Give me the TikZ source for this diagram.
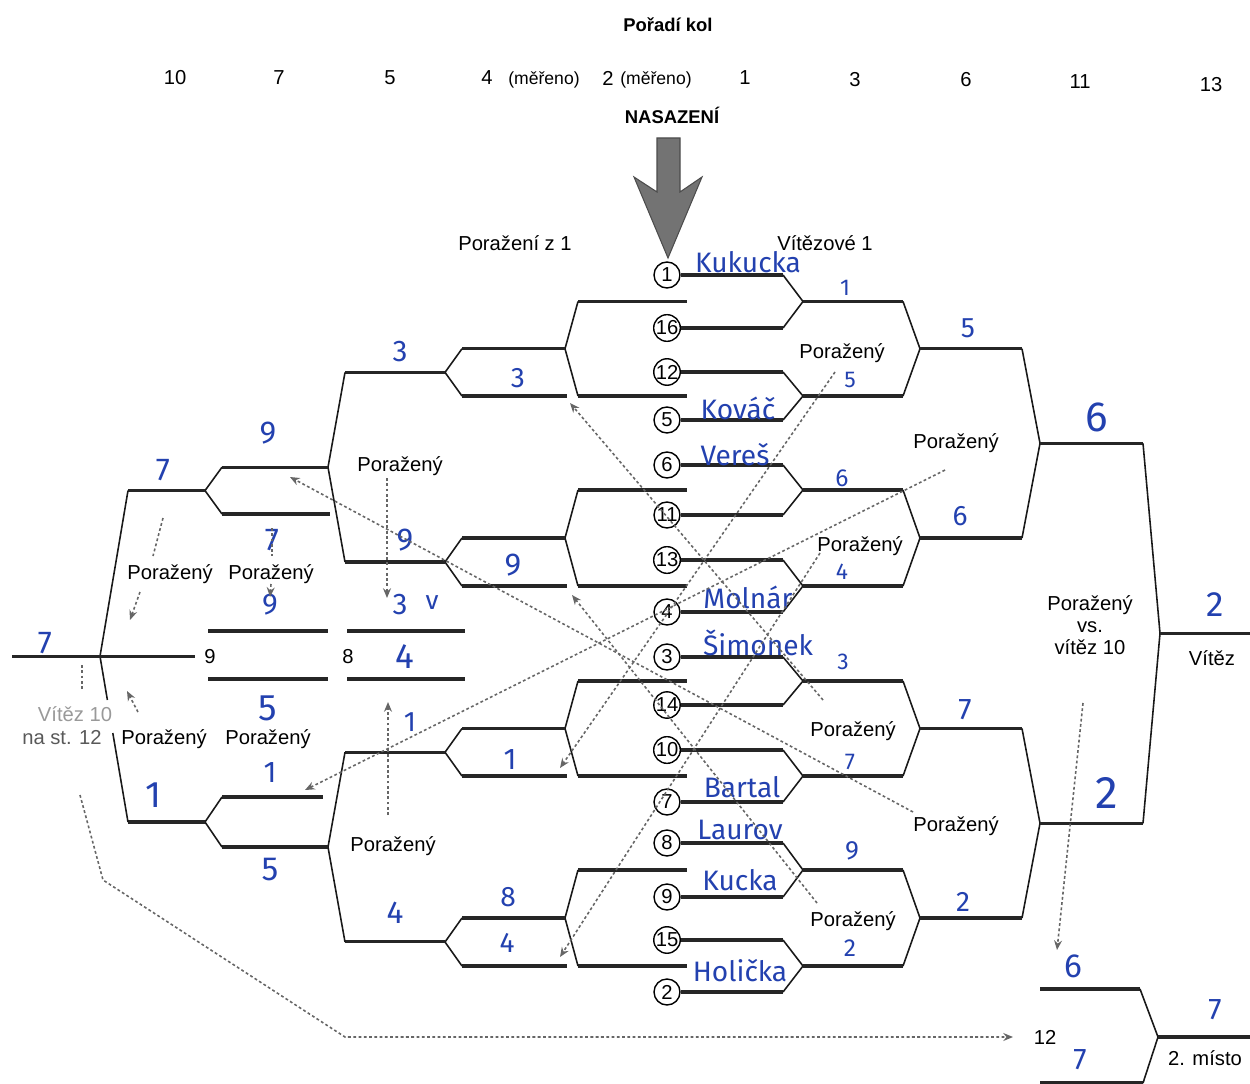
\documentclass[tikz,border=0pt]{standalone}
\usepackage{fontspec}
\setmainfont{Liberation Sans}
\newfontfamily\hand{Fira Sans}
\usetikzlibrary{arrows.meta}
\definecolor{hb}{RGB}{35,65,175}
\begin{document}
\begin{tikzpicture}[x=0.02cm,y=-0.02cm,
 br/.style={line width=1.8pt,draw=black!85},
 diag/.style={line width=0.9pt,draw=black!90},
 lab/.style={inner sep=0pt,font=\fontsize{11.5}{13.5}\selectfont},
 hdr/.style={inner sep=0pt,font=\fontsize{11.5}{13}\selectfont},
 boldlab/.style={inner sep=0pt,font=\bfseries\fontsize{10.5}{12}\selectfont},
 seed/.style={circle,draw,line width=0.8pt,minimum size=0.52cm,inner sep=0pt,font=\fontsize{11.5}{12}\selectfont,fill=white},
 hw/.style={inner sep=0pt,text=hb,font=\hand\fontsize{#1}{#1}\selectfont},
 hw/.default=16,
 dsh/.style={draw=black!60,line width=0.9pt,dash pattern=on 1.6pt off 1.4pt},
 dar/.style={dsh,-{Stealth[length=5.5pt,width=4.5pt]}},
]
\useasboundingbox (0,0) rectangle (1250,1084);

% ---------- header ----------
\node[boldlab] (title) at (668,25) {Pořadí kol};
\node[hdr] (h10) at (175,78) {10};
\node[hdr] (h7) at (279,78) {7};
\node[hdr] (h5) at (390,78) {5};
\node[hdr] (h4) at (487,78) {4};
\node[inner sep=0pt,font=\fontsize{10}{12}\selectfont] (h4m) at (544,80) {(měřeno)};
\node[hdr] (h2) at (608,78) {2};
\node[inner sep=0pt,font=\fontsize{10}{12}\selectfont] (h2m) at (656,80) {(měřeno)};
\node[hdr] (h1) at (745,78) {1};
\node[hdr] (h3) at (855,80) {3};
\node[hdr] (h6) at (966,80) {6};
\node[hdr] (h11) at (1080,82) {11};
\node[hdr] (h13) at (1211,85) {13};
\node[boldlab] (nas) at (672,115) {NASAZENÍ};

% big arrow
\filldraw[fill=black!55,draw=black!70,line width=0.6pt]
 (657,138) -- (680,138) -- (680,192) -- (702,177) -- (668,258) -- (634,177) -- (657,192) -- cycle;

\node[lab] (lz1) at (515,243) {Poražení z 1};
\node[lab] (vz1) at (825,243) {Vítězové 1};

% ---------- seeds ----------
\foreach \n/\yy in {1/275,16/328,12/372,5/420,6/465,11/515,13/560,4/612,3/657,14/705,10/750,7/802,8/843,9/897,15/940,2/992}{
  \node[seed] (s\n) at (667,\yy) {\n};
  \draw[br] (s\n.east) -- (783,\yy);
}
% ---------- winners bracket ----------
\foreach \a/\b in {275/328,372/420,465/515,560/612,657/705,750/802,843/897,940/992}
  \draw[diag] (783,\a) -- (803,{(\a+\b)/2}) -- (783,\b);
\foreach \a/\b in {301.5/396,490/586,681/776,870/966}{
  \draw[br] (803,\a) -- (903,\a);
  \draw[br] (803,\b) -- (903,\b);
  \draw[diag] (903,\a) -- (920,{(\a+\b)/2}) -- (903,\b);
}
\foreach \a/\b in {348.75/538,728.5/918}{
  \draw[br] (920,\a) -- (1022,\a);
  \draw[br] (920,\b) -- (1022,\b);
  \draw[diag] (1022,\a) -- (1040,{(\a+\b)/2}) -- (1022,\b);
}
\draw[br] (1040,443.4) -- (1143,443.4);
\draw[br] (1040,823.25) -- (1143,823.25);
\draw[diag] (1143,443.4) -- (1160,633.3) -- (1143,823.25);
\draw[br] (1160,633.3) -- (1250,633.3);

% second place
\draw[br] (1040,989) -- (1140,989);
\draw[br] (1040,1083) -- (1143,1083);
\draw[diag] (1140,989) -- (1158,1037) -- (1143,1083);
\draw[br] (1158,1037) -- (1250,1037);

% ---------- losers bracket ----------
\foreach \a/\b in {301.5/396,490/586,681/776,870/966}{
  \draw[br] (578,\a) -- (687,\a);
  \draw[br] (578,\b) -- (687,\b);
  \draw[diag] (578,\a) -- (565,{(\a+\b)/2}) -- (578,\b);
  \draw[br] (462,{(\a+\b)/2}) -- (565,{(\a+\b)/2});
  \draw[br] (462,\b) -- (567,\b);
  \draw[diag] (462,{(\a+\b)/2}) -- (445,{((\a+\b)/2+\b)/2}) -- (462,\b);
}
\foreach \a/\b in {372.4/562,752.25/941.9}{
  \draw[br] (345,\a) -- (445,\a);
  \draw[br] (345,\b) -- (445,\b);
  \draw[diag] (345,\a) -- (328,{(\a+\b)/2}) -- (345,\b);
}
% round 7
\draw[br] (222,467.2) -- (328,467.2);
\draw[br] (222,514) -- (330,514);
\draw[diag] (222,467.2) -- (205,490.6) -- (222,514);
\draw[br] (222,797) -- (323,797);
\draw[br] (222,847) -- (328,847);
\draw[diag] (222,797) -- (205,822) -- (222,847);
% round 10
\draw[br] (128,490.6) -- (205,490.6);
\draw[br] (128,822) -- (205,822);
\draw[diag] (128,490.6) -- (100,656.3) -- (107.4,700);
\draw[diag] (112.8,733) -- (128,822);
\draw[br] (12,656.3) -- (195,656.3);
% rounds 9 and 8
\draw[br] (208,631) -- (328,631);
\draw[br] (208,679) -- (328,679);
\draw[br] (347,631) -- (465,631);
\draw[br] (347,679) -- (465,679);
\node[lab] (r9) at (210,657) {9};
\node[lab] (r8) at (348,657) {8};

% ---------- printed labels ----------
\node[lab] (p1) at (842,353) {Poražený};
\node[lab] (p2) at (956,443) {Poražený};
\node[lab] (p3) at (860,546) {Poražený};
\node[lab] (p4) at (400,466) {Poražený};
\node[lab] (p5) at (170,574) {Poražený};
\node[lab] (p6) at (271,574) {Poražený};
\node[lab] (p7) at (164,739) {Poražený};
\node[lab] (p8) at (268,739) {Poražený};
\node[lab] (p9) at (393,846) {Poražený};
\node[lab] (p10) at (853,731) {Poražený};
\node[lab] (p11) at (956,826) {Poražený};
\node[lab] (p12) at (853,921) {Poražený};
\node[lab,text=black!40] (v10) at (75,714) {Vítěz 10};
\node[lab,text=black!65] (st12) at (62,738) {na st. 12};
\node[lab,align=center,font=\fontsize{11.5}{12.5}\selectfont] (pvs) at (1090,625) {Poražený\\vs.\\vítěz 10};
\node[lab] (vit) at (1212,658) {Vítěz};
\node[lab] (n12) at (1045,1037) {12};
\node[lab] (misto) at (1205,1058) {2. místo};

% ---------- handwritten names ----------
\node[hw=16] (nKukucka) at (748,262) {Kukucka};
\node[hw=16] (nKovac) at (738,408) {Kováč};
\node[hw=16] (nVeres) at (735,455) {Vereš};
\node[hw=16] (nMolnar) at (748,597) {Molnár};
\node[hw=16] (nSimonek) at (758,643) {Šimonek};
\node[hw=16] (nBartal) at (742,787) {Bartal};
\node[hw=16] (nLaurov) at (740,830) {Laurov};
\node[hw=16] (nKucka) at (740,880) {Kucka};
\node[hw=16] (nHolicka) at (740,971) {Holička};

% ---------- handwritten scores ----------
\node[hw=13] (w1a) at (845,288) {1};
\node[hw=13] (w1b) at (850,380) {5};
\node[hw=14] (w1c) at (842,478) {6};
\node[hw=13] (w1d) at (842,572) {4};
\node[hw=13] (w1e) at (843,662) {3};
\node[hw=13] (w1f) at (850,762) {7};
\node[hw=15] (w1g) at (852,851) {9};
\node[hw=14] (w1h) at (850,948) {2};
\node[hw=16] (w3a) at (968,328) {5};
\node[hw=16] (w3b) at (960,516) {6};
\node[hw=17] (w3c) at (965,710) {7};
\node[hw=16] (w3d) at (963,902) {2};
\node[hw=24] (w6a) at (1097,417) {6};
\node[hw=26] (w6b) at (1107,793) {2};
\node[hw=20] (fin) at (1215,605) {2};
\node[hw=19] (sp1) at (1073,966) {6};
\node[hw=17] (sp2) at (1080,1060) {7};
\node[hw=17] (sp3) at (1215,1010) {7};

\node[hw=17] (l1) at (400,352) {3};
\node[hw=16] (l2) at (518,378) {3};
\node[hw=18] (l3) at (405,540) {9};
\node[hw=18] (l4) at (513,565) {9};
\node[hw=18] (l5) at (268,433) {9};
\node[hw=18] (l6) at (272,540) {7};
\node[hw=18] (l7) at (163,470) {7};
\node[hw=17] (l8) at (270,605) {9};
\node[hw=17] (l9) at (400,605) {3};
\node[hw=15] (l9v) at (432,603) {v};
\node[hw=20] (l10) at (405,657) {4};
\node[hw=21] (l11) at (268,708) {5};
\node[hw=18] (l12) at (45,643) {7};
\node[hw=17] (l13) at (270,773) {1};
\node[hw=21] (l14) at (153,795) {1};
\node[hw=19] (l15) at (270,870) {5};
\node[hw=16] (l16) at (410,722) {1};
\node[hw=17] (l17) at (510,760) {1};
\node[hw=18] (l18) at (395,913) {4};
\node[hw=16] (l19) at (508,897) {8};
\node[hw=16] (l20) at (507,943) {4};

% ---------- dotted connectors ----------
\coordinate (aS) at (823,700); \coordinate (aE) at (570,403);
\coordinate (bS) at (835,372); \coordinate (bE) at (560,768);
\coordinate (cS) at (945,470); \coordinate (cE) at (305,790);
\coordinate (dS) at (820,553); \coordinate (dE) at (560,957);
\coordinate (eS) at (913,812); \coordinate (eE) at (290,477);
\coordinate (fS) at (817,903); \coordinate (fE) at (572,595);
\draw[dar] (aS) -- (aE);
\draw[dar] (bS) -- (bE);
\draw[dar] (cS) -- (cE);
\draw[dar] (dS) -- (dE);
\draw[dar] (eS) -- (eE);
\draw[dar] (fS) -- (fE);

\coordinate (gS) at (387,478); \coordinate (gE) at (387,598);
\draw[dar] (gS) -- (gE);
\coordinate (hS) at (388,815); \coordinate (hE) at (388,702);
\draw[dar] (hS) -- (hE);
\coordinate (iS) at (163,518); \coordinate (iM) at (153,556);
\coordinate (iN) at (140,592); \coordinate (iE) at (130,620);
\draw[dsh] (iS) -- (iM);
\draw[dar] (iN) -- (iE);
\coordinate (jS) at (272,528); \coordinate (jM) at (272,556);
\coordinate (jN) at (271,584); \coordinate (jE) at (270,597);
\draw[dsh] (jS) -- (jM);
\draw[dar] (jN) -- (jE);
\coordinate (kS) at (82,665); \coordinate (kE) at (82,690);
\draw[dsh] (kS) -- (kE);
\coordinate (lS) at (138,712); \coordinate (lE) at (127,691);
\draw[dar] (lS) -- (lE);
\coordinate (m0) at (80,795); \coordinate (m1) at (103,880);
\coordinate (m2) at (345,1037); \coordinate (m3) at (1013,1037);
\draw[dar] (m0) -- (m1) -- (m2) -- (m3);
\coordinate (nS) at (1083,703); \coordinate (nE) at (1057,950);
\draw[dar] (nS) -- (nE);
\end{tikzpicture}
\end{document}
